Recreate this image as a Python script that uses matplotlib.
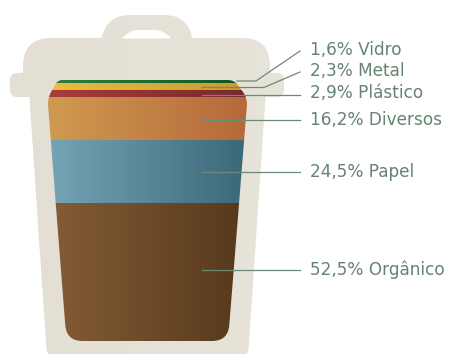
import matplotlib
matplotlib.use('Agg')
import matplotlib.pyplot as plt
import numpy as np
from matplotlib.colors import LinearSegmentedColormap
from matplotlib.path import Path
from matplotlib.patches import PathPatch

# residue shares, top of the bin first
materials = ['Vidro', 'Metal', 'Plástico', 'Diversos', 'Papel', 'Orgânico']
shares = [1.6, 2.3, 2.9, 16.2, 24.5, 52.5]
labels = ['1,6% Vidro', '2,3% Metal', '2,9% Plástico', '16,2% Diversos', '24,5% Papel', '52,5% Orgânico']

left_colors = ['#2c7f3d', '#ecbd3f', '#ab3c3c', '#d09a50', '#76a5b7', '#855d36']
right_colors = ['#0b5622', '#c9992f', '#77282d', '#b6693b', '#3b6877', '#55381c']

label_y = [50, 71, 93, 120, 172, 270]
line_y = [81, 87.5, 94.5, 120, 172, 270]

fill_top = 80
px_per_percent = 2.61


def rounded(points, radii):
    # closed polygon with quadratic corners
    pts = np.array(points, dtype=float)
    n = len(pts)
    verts, codes = [], []
    for i in range(n):
        p = pts[i]
        a = pts[i - 1] - p
        b = pts[(i + 1) % n] - p
        r = radii[i]
        start = p + a / np.linalg.norm(a) * r
        end = p + b / np.linalg.norm(b) * r
        verts.append(start)
        codes.append(Path.MOVETO if i == 0 else Path.LINETO)
        verts += [p, end]
        codes += [Path.CURVE3, Path.CURVE3]
    verts.append(verts[0])
    codes.append(Path.CLOSEPOLY)
    return Path(verts, codes)


def gradient(ax, c1, c2, extent, clip, zorder):
    cmap = LinearSegmentedColormap.from_list('g', [c1, c2])
    im = ax.imshow(np.linspace(0, 1, 256)[None, :], cmap=cmap, extent=extent,
                   aspect='auto', zorder=zorder, interpolation='bilinear')
    im.set_clip_path(PathPatch(clip, transform=ax.transData))


fig = plt.figure(figsize=(4.49, 3.54), dpi=100)
ax = fig.add_axes([0, 0, 1, 1])

# bin shell: body, lid, side grips and handle
body = rounded([(29, 90), (266, 90), (248, 358), (47, 358)], [1, 1, 10, 10])
lid = rounded([(23, 38), (270, 38), (270, 90), (23, 90)], [28, 28, 1, 1])
grips = rounded([(10, 73), (284, 73), (284, 97), (10, 97)], [7, 7, 7, 7])
handle = rounded([(101, 42), (106, 15), (188, 15), (193, 42)], [1, 24, 24, 1])
hole = rounded([(122, 38.5), (130, 30), (163, 30), (171, 38.5)], [1, 9, 9, 1])

for shape in [handle, grips, lid, body]:
    gradient(ax, '#e3dfd4', '#e9e6dd', (0, 449, 354, 0), shape, 1)
ax.add_patch(PathPatch(hole, facecolor='white', edgecolor='none', zorder=2))

# fill outline, bands are clipped to it
fill = rounded([(58, 80), (234, 80), (247.5, 98), (228, 341), (66.5, 341), (47.5, 98)],
               [4, 6, 8, 16, 16, 8])
tops = fill_top + np.concatenate([[0], np.cumsum(shares)]) * px_per_percent
for i in range(len(shares)):
    gradient(ax, left_colors[i], right_colors[i], (47, 248, tops[i + 1], tops[i]), fill, 3)

# leader lines
line_color = '#6d8a75'
ax.plot([237, 256, 300], [line_y[0], line_y[0], 51], color=line_color, lw=0.9, zorder=4)
ax.plot([202, 264, 300], [line_y[1], line_y[1], 72], color=line_color, lw=0.9, zorder=4)
for i in range(2, len(shares)):
    ax.plot([202, 300], [line_y[i], line_y[i]], color=line_color, lw=0.9, zorder=4)

for y, text in zip(label_y, labels):
    ax.text(310, y, text, color='#668370', fontsize=12.2, family='DejaVu Sans', va='center', ha='left', zorder=5)

ax.set_xlim(0, 449)
ax.set_ylim(354, 0)
ax.axis('off')

fig.savefig('out.png', dpi=100)
